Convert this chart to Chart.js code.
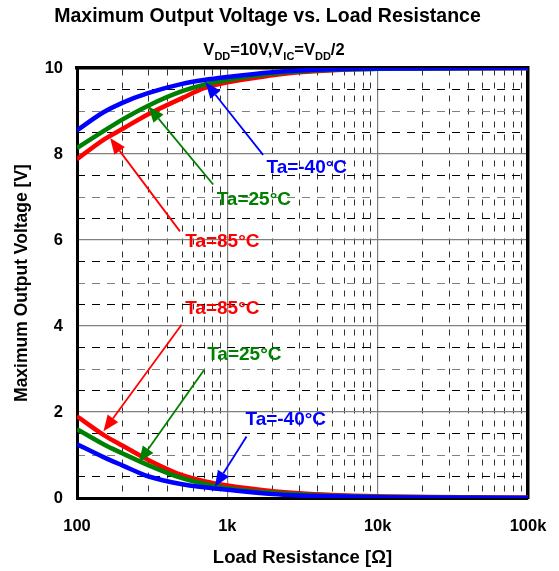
<!DOCTYPE html>
<html>
<head>
<meta charset="utf-8">
<title>Maximum Output Voltage vs. Load Resistance</title>
<script src="https://cdn.jsdelivr.net/npm/chart.js@4.4.1/dist/chart.umd.min.js"></script>
<style>
    html, body { margin: 0; padding: 0; background: #fff; }
</style>
</head>
<body>
<canvas id="voutChart" width="559" height="571"></canvas>
<script>
// Load resistance [ohm] where the curves were read
var resistance = [100, 150, 200, 300, 500, 700, 1000, 2000, 3000, 5000, 10000, 100000];

// Max output voltage, high side [V]
var highM40 = [8.55, 8.97, 9.19, 9.42, 9.63, 9.72, 9.79, 9.90, 9.94, 9.97, 9.99, 10.0];
var high25  = [8.14, 8.53, 8.80, 9.13, 9.46, 9.61, 9.72, 9.87, 9.92, 9.96, 9.98, 10.0];
var high85  = [7.88, 8.33, 8.58, 8.93, 9.30, 9.53, 9.67, 9.83, 9.90, 9.95, 9.98, 10.0];

// Max output voltage, low side [V]
var lowM40 = [1.25, 0.95, 0.76, 0.50, 0.32, 0.25, 0.19, 0.09, 0.06, 0.04, 0.02, 0.00];
var low25  = [1.60, 1.25, 1.04, 0.76, 0.46, 0.33, 0.23, 0.12, 0.08, 0.05, 0.03, 0.00];
var low85  = [1.90, 1.47, 1.22, 0.88, 0.53, 0.39, 0.29, 0.16, 0.11, 0.07, 0.04, 0.01];

// Axis tick labels
var xTickValues = [100, 1000, 10000, 100000];
var xTickLabels = ['100', '1k', '10k', '100k'];
var yTickValues = [0, 2, 4, 6, 8, 10];

// Arrow annotations (data coordinates)
var annoText   = ['Ta=-40°C', 'Ta=25°C', 'Ta=85°C', 'Ta=85°C', 'Ta=25°C', 'Ta=-40°C'];
var annoColor  = ['#0000ff', '#008000', '#ff0000', '#ff0000', '#008000', '#0000ff'];
var annoLabelR = [3375, 1500, 926, 926, 1297, 2447];
var annoLabelV = [7.68, 6.94, 5.96, 4.40, 3.33, 1.82];
var annoFromR  = [1729, 805, 484, 496, 698, 1342];
var annoFromV  = [7.98, 7.29, 6.20, 4.03, 2.97, 1.43];
var annoToR    = [716, 298, 166, 150, 258, 826];
var annoToV    = [9.67, 9.11, 8.37, 1.55, 0.83, 0.26];

var FONT = 'Arial, "Liberation Sans", sans-serif';
var BLUE = '#0000ff', GREEN = '#008000', RED = '#ff0000';

function toPoints(values) {
    return resistance.map(function(r, i) { return { x: r, y: values[i] }; });
}

function isDecade(v) {
    var l = Math.log10(v);
    return Math.abs(l - Math.round(l)) < 1e-6;
}

// Minor grid positions 1..9 x each decade
function logGridTicks(scale) {
    var ticks = [];
    for (var d = 100; d < 100000; d *= 10) {
        for (var m = 1; m < 10; m++) ticks.push({ value: d * m });
    }
    ticks.push({ value: 100000 });
    scale.ticks = ticks;
}

function curve(label, values, color) {
    return {
        label: label,
        data: toPoints(values),
        borderColor: color,
        backgroundColor: color,
        borderWidth: 4.5,
        pointRadius: 0,
        fill: false,
        cubicInterpolationMode: 'monotone'
    };
}

// Subtitle with subscripts: V_DD=10V,V_IC=V_DD/2
var subtitleParts = [['V', 0], ['DD', 1], ['=10V,V', 0], ['IC', 1], ['=V', 0], ['DD', 1], ['/2', 0]];

var subtitlePlugin = {
    id: 'subtitleSub',
    afterDraw: function(chart) {
        var ctx = chart.ctx;
        var bigFont = 'bold 16.5px ' + FONT, smallFont = 'bold 11px ' + FONT;
        ctx.save();
        var total = 0;
        subtitleParts.forEach(function(p) {
            ctx.font = p[1] ? smallFont : bigFont;
            total += ctx.measureText(p[0]).width;
        });
        var x = 274 - total / 2;
        ctx.fillStyle = '#000';
        ctx.textAlign = 'left';
        ctx.textBaseline = 'alphabetic';
        subtitleParts.forEach(function(p) {
            ctx.font = p[1] ? smallFont : bigFont;
            ctx.fillText(p[0], x, p[1] ? 59.5 : 55);
            x += ctx.measureText(p[0]).width;
        });
        ctx.restore();
    }
};

var arrowPlugin = {
    id: 'arrows',
    afterDatasetsDraw: function(chart) {
        var xs = chart.scales.x, ys = chart.scales.y, ctx = chart.ctx;
        ctx.save();
        for (var i = 0; i < annoText.length; i++) {
            var x1 = xs.getPixelForValue(annoFromR[i]), y1 = ys.getPixelForValue(annoFromV[i]);
            var x2 = xs.getPixelForValue(annoToR[i]), y2 = ys.getPixelForValue(annoToV[i]);
            var ang = Math.atan2(y2 - y1, x2 - x1);
            var headLen = 16, headHalf = 6.5;
            var bx = x2 - headLen * Math.cos(ang), by = y2 - headLen * Math.sin(ang);
            ctx.strokeStyle = annoColor[i];
            ctx.fillStyle = annoColor[i];
            ctx.lineWidth = 1.8;
            ctx.beginPath();
            ctx.moveTo(x1, y1);
            ctx.lineTo(bx, by);
            ctx.stroke();
            ctx.beginPath();
            ctx.moveTo(x2, y2);
            ctx.lineTo(bx + headHalf * Math.sin(ang), by - headHalf * Math.cos(ang));
            ctx.lineTo(bx - headHalf * Math.sin(ang), by + headHalf * Math.cos(ang));
            ctx.closePath();
            ctx.fill();

            ctx.font = 'bold 19px ' + FONT;
            ctx.textAlign = 'center';
            ctx.textBaseline = 'middle';
            ctx.fillText(annoText[i], xs.getPixelForValue(annoLabelR[i]), ys.getPixelForValue(annoLabelV[i]));
        }
        ctx.restore();
    }
};

var tickFont = { family: FONT, size: 16.5, weight: 'bold' };

var ctx = document.getElementById('voutChart').getContext('2d');
var chart = new Chart(ctx, {
    type: 'line',
    data: {
        datasets: [
            curve('Ta=-40°C', highM40, BLUE),
            curve('Ta=25°C', high25, GREEN),
            curve('Ta=85°C', high85, RED),
            curve('Ta=-40°C', lowM40, BLUE),
            curve('Ta=25°C', low25, GREEN),
            curve('Ta=85°C', low85, RED)
        ]
    },
    options: {
        responsive: false,
        animation: false,
        layout: { padding: { left: 0, right: 24, top: 0, bottom: 0 } },
        plugins: {
            legend: { display: false },
            tooltip: { enabled: false },
            title: {
                display: true,
                text: 'Maximum Output Voltage vs. Load Resistance',
                color: '#000',
                font: { family: FONT, size: 19.5, weight: 'bold' },
                padding: { top: 5.3, bottom: 0 }
            }
        },
        scales: {
            x: {
                type: 'logarithmic',
                position: 'bottom',
                min: 100,
                max: 100000,
                afterBuildTicks: function(scale) {
                    scale.ticks = xTickValues.map(function(v) { return { value: v }; });
                },
                afterFit: function(scale) { scale.height = 73; },
                border: { display: true, color: '#000', width: 3 },
                // invisible tick marks push the labels down without widening the side padding
                grid: { drawTicks: true, tickLength: 17, tickColor: 'rgba(0,0,0,0)', color: '#808080', lineWidth: 1.2 },
                ticks: {
                    autoSkip: false,
                    maxRotation: 0,
                    padding: 2,
                    color: '#000',
                    font: tickFont,
                    callback: function(v) {
                        var i = xTickValues.indexOf(v);
                        return i >= 0 ? xTickLabels[i] : '';
                    }
                },
                title: {
                    display: true,
                    text: 'Load Resistance [Ω]',
                    color: '#000',
                    font: { family: FONT, size: 18.5, weight: 'bold' },
                    padding: { top: 0, bottom: 2 }
                }
            },
            x2: {
                type: 'logarithmic',
                position: 'top',
                min: 100,
                max: 100000,
                afterBuildTicks: logGridTicks,
                afterFit: function(scale) { scale.height = 39.3; },
                border: { display: true, color: '#000', width: 3.5, dash: [6, 7] },
                grid: {
                    drawTicks: false,
                    lineWidth: 1,
                    color: function(c) {
                        if (!c.tick || isDecade(c.tick.value)) return 'rgba(0,0,0,0)';
                        return '#333';
                    }
                },
                ticks: { display: false }
            },
            y: {
                type: 'linear',
                position: 'left',
                min: 0,
                max: 10,
                afterBuildTicks: function(scale) {
                    scale.ticks = yTickValues.map(function(v) { return { value: v }; });
                },
                afterFit: function(scale) { scale.width = 77; },
                border: { display: true, color: '#000', width: 3 },
                grid: { drawTicks: false, color: '#808080', lineWidth: 1.2 },
                ticks: { padding: 14, color: '#000', font: tickFont },
                title: {
                    display: true,
                    text: 'Maximum Output Voltage [V]',
                    color: '#000',
                    font: { family: FONT, size: 17.5, weight: 'bold' },
                    padding: { top: 11.5, bottom: 0 }
                }
            },
            y2: {
                type: 'linear',
                position: 'right',
                min: 0,
                max: 10,
                ticks: { display: false, stepSize: 0.5 },
                afterFit: function(scale) { scale.width = 7; },
                border: { display: true, color: '#000', width: 3.5, dash: [8, 7] },
                grid: {
                    drawTicks: false,
                    lineWidth: 1,
                    color: function(c) {
                        if (!c.tick) return 'rgba(0,0,0,0)';
                        var v = c.tick.value;
                        if (Math.abs(v % 2) < 1e-6) return 'rgba(0,0,0,0)';
                        if (Math.abs(v - Math.round(v)) < 1e-6) return '#808080';
                        return '#000';
                    }
                }
            }
        }
    },
    plugins: [arrowPlugin, subtitlePlugin]
});
</script>
</body>
</html>
